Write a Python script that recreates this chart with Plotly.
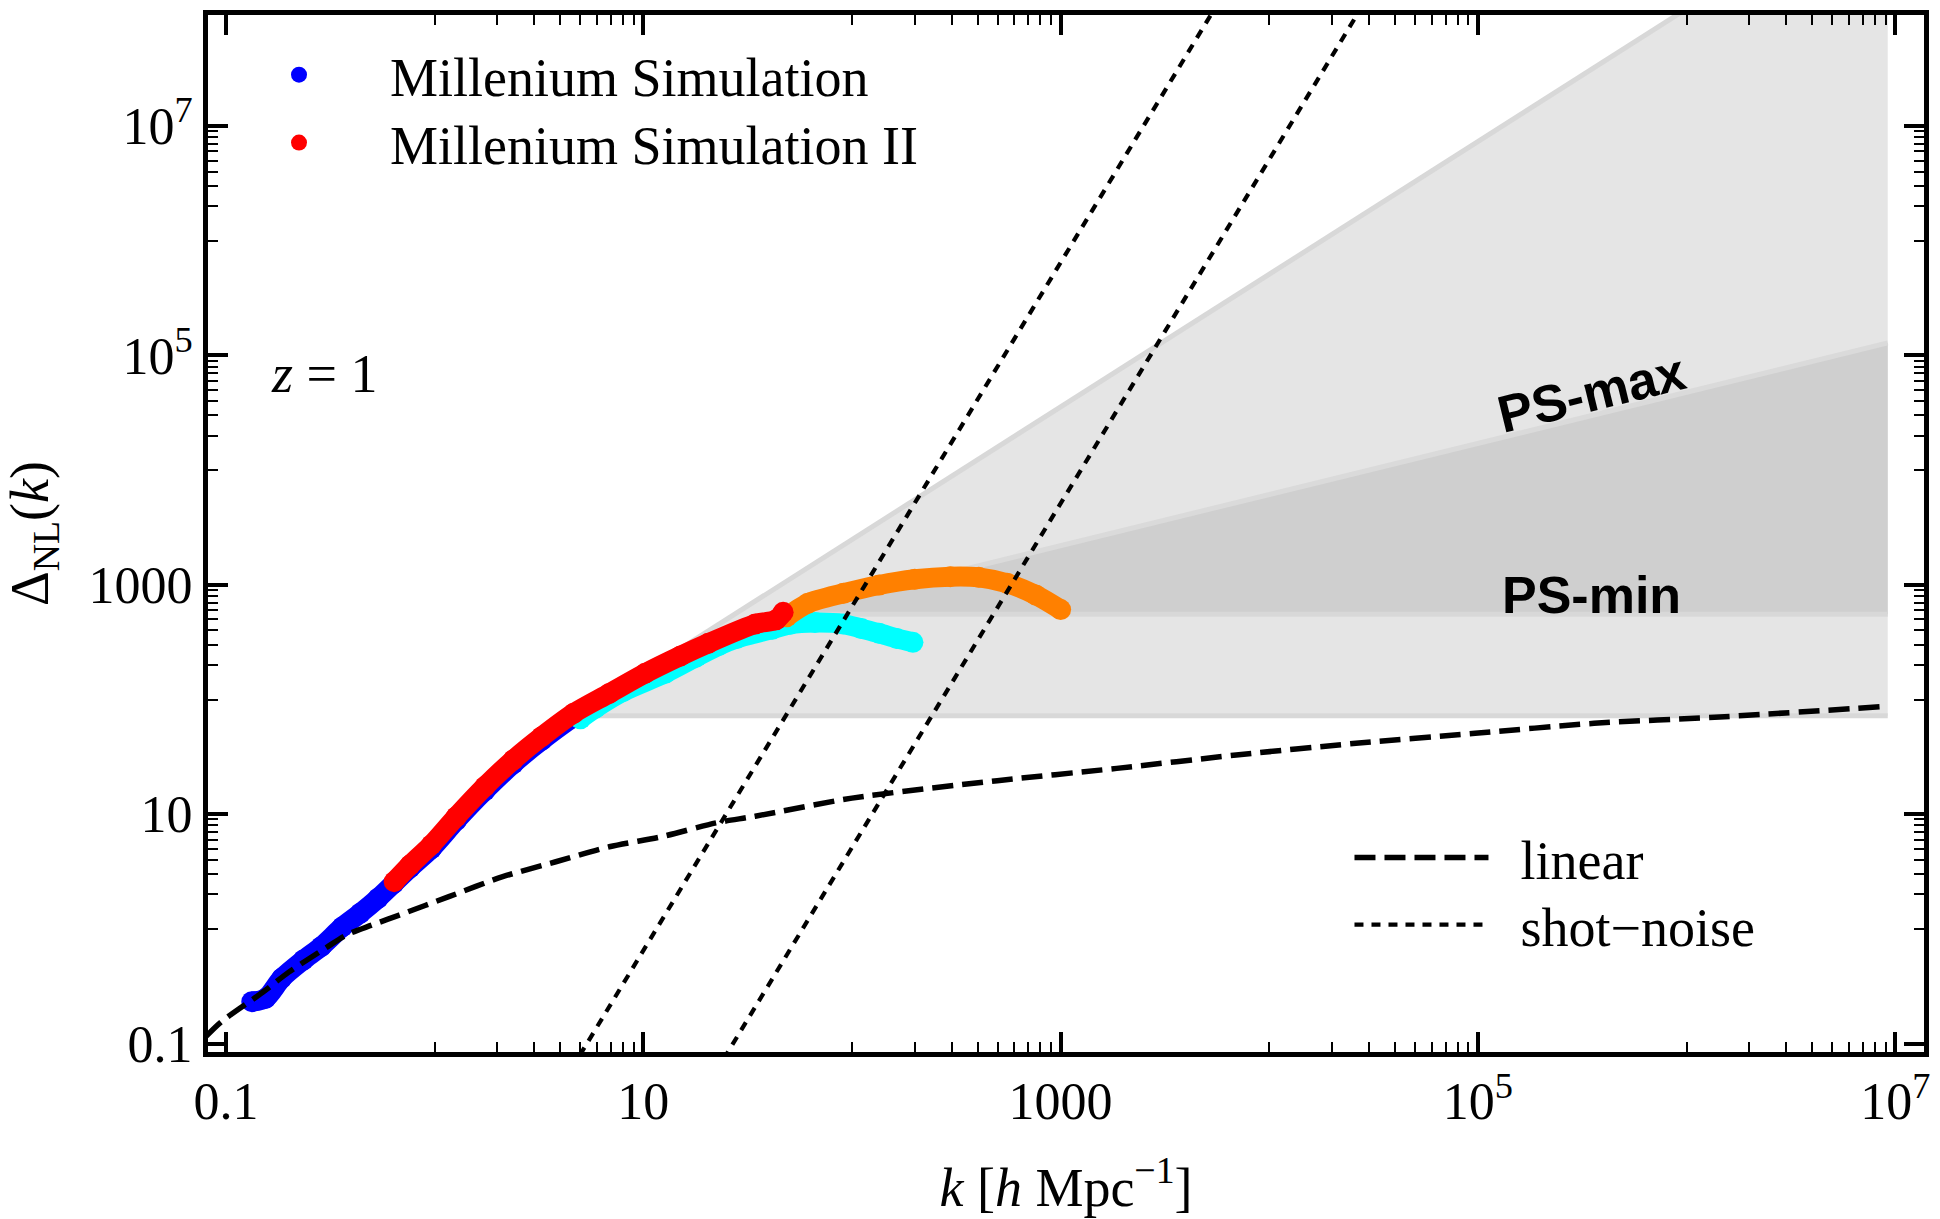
import plotly.graph_objects as go

# ---------------- data ----------------
# Millennium Simulation (blue)
ms_k = [0.133, 0.155, 0.185, 0.235, 0.286, 0.361, 0.44, 0.536, 0.638, 0.762, 0.964,
        1.27, 1.74, 2.38, 3.26, 4.64, 5.9]
ms_delta = [0.232, 0.248, 0.371, 0.536, 0.70, 1.04, 1.37, 1.85, 2.5, 3.4, 5.0,
            8.8, 16.0, 27.5, 44.0, 70.0, 88.0]

# Millennium Simulation II (red)
ms2_k = [0.64, 0.762, 0.964, 1.27, 1.74, 2.38, 3.26, 4.64, 6.87, 10.2, 15.1,
         20.5, 34.4, 43.3, 46.8]
ms2_delta = [2.58, 3.6, 5.4, 9.5, 17.4, 29.7, 47.4, 75.9, 113, 169, 240,
             309, 455, 495, 575]

# cyan extension
cyan_k = [5.0, 5.9, 8.0, 12.8, 18.0, 23.0, 28.0, 41.5, 50.5, 66.5, 91.0, 111.0,
          135.0, 164.0, 196.0]
cyan_delta = [68, 84, 117, 170, 235, 295, 340, 410, 452, 468, 455, 415,
              378, 341, 315]

# orange extension
orange_k = [48.6, 61.5, 91.0, 135.0, 200.0, 296.0, 405.0, 554.0, 760.0, 1000.0]
orange_delta = [527, 690, 843, 996, 1117, 1177, 1161, 1031, 815, 608]

# linear theory (dashed)
lin_k = [0.08, 0.095, 0.15, 0.2, 0.3, 0.38, 0.5, 0.677, 1.17, 2.12, 3.81, 6.87,
         12.4, 22.3, 34.4, 100, 497, 1858, 6940, 2.6e4, 9.7e4, 3.6e5, 1.36e6, 8.5e6]
lin_delta = [0.115, 0.155, 0.28, 0.42, 0.68, 0.89, 1.08, 1.32, 1.91, 2.85, 3.85, 5.2,
             6.4, 8.4, 9.6, 13.8, 19.6, 25.1, 32.8, 41.5, 50.7, 62, 70, 86.5]

# shot-noise levels (dotted), two simulations
shot_ms_k = [4.5, 6000.0]
shot_ms_delta = [0.059, 1.39e8]
shot_ms2_k = [22.0, 30000.0]
shot_ms2_delta = [0.0546, 1.38e8]

# shaded bounds
shade_k = [4.7, 9.2e6]          # left apex and right end of shaded region
shade_floor = 72.0              # lower horizontal bound
steep_delta = [72.0, 1.37e9]    # upper steep bound
ps_max_k = [45.5, 9.2e6]
ps_max_delta = [553.0, 1.285e5]
ps_min_level = 553.0

# axis ticks
major_vals = [0.1, 10, 1000, 1e5, 1e7]
major_text = ["0.1", "10", "1000", "10<sup>5</sup>", "10<sup>7</sup>"]
minor_vals = ([m * 1 for m in range(1, 10)] + [m * 100 for m in range(1, 10)] +
              [m * 1e4 for m in range(1, 10)] + [m * 1e6 for m in range(1, 10)])

SERIF = "Liberation Serif"
SANS = "Liberation Sans"
NB = "\u00a0"

fig = go.Figure()

# ---- shaded regions ----
fig.add_trace(go.Scatter(
    x=[shade_k[0], shade_k[1], shade_k[1]],
    y=[shade_floor, shade_floor, steep_delta[1]],
    fill="toself", fillcolor="#e5e5e5", mode="lines", line=dict(width=0),
    hoverinfo="skip", showlegend=False))
fig.add_trace(go.Scatter(
    x=[ps_max_k[0], ps_max_k[1], ps_max_k[1]],
    y=[ps_min_level, ps_min_level, ps_max_delta[1]],
    fill="toself", fillcolor="#cfcfcf", mode="lines", line=dict(width=0),
    hoverinfo="skip", showlegend=False))

bound_style = dict(color="#d8d8d8", width=5)
fig.add_trace(go.Scatter(x=shade_k, y=steep_delta, mode="lines",
                         line=bound_style, hoverinfo="skip", showlegend=False))
fig.add_trace(go.Scatter(x=shade_k, y=[shade_floor, shade_floor], mode="lines",
                         line=bound_style, hoverinfo="skip", showlegend=False))
fig.add_trace(go.Scatter(x=[ps_max_k[0], shade_k[1]], y=[ps_min_level, ps_min_level],
                         mode="lines", line=bound_style, hoverinfo="skip", showlegend=False))
fig.add_trace(go.Scatter(x=ps_max_k, y=ps_max_delta, mode="lines",
                         line=dict(color="#dadada", width=5), hoverinfo="skip",
                         showlegend=False))

# ---- simulation curves ----
MS = 21
LW = 20


def add_series(k, d, color, name, legend_id):
    fig.add_trace(go.Scatter(x=k, y=d, mode="lines",
                             line=dict(color=color, width=LW, shape="spline", smoothing=0.8),
                             hoverinfo="skip", showlegend=False))
    fig.add_trace(go.Scatter(x=k, y=d, mode="markers", name=name,
                             marker=dict(color=color, size=MS, line=dict(width=0)),
                             showlegend=legend_id is not None,
                             legend=legend_id or "legend"))


add_series(ms_k, ms_delta, "#0000ff", "Millenium Simulation", "legend")
add_series(cyan_k, cyan_delta, "#00ffff", "cyan", None)
add_series(orange_k, orange_delta, "#ff8000", "orange", None)
add_series(ms2_k, ms2_delta, "#ff0000", "Millenium Simulation II", "legend3")

# ---- linear & shot noise ----
fig.add_trace(go.Scatter(x=lin_k, y=lin_delta, mode="lines", name=NB * 2 + "linear",
                         line=dict(color="black", width=5.5, dash="21px,9px",
                                   shape="spline", smoothing=0.8),
                         legend="legend2"))
fig.add_trace(go.Scatter(x=shot_ms_k, y=shot_ms_delta, mode="lines",
                         name=NB * 2 + "shot−noise",
                         line=dict(color="black", width=4.2, dash="9px,8px"),
                         legend="legend4"))
fig.add_trace(go.Scatter(x=shot_ms2_k, y=shot_ms2_delta, mode="lines", name="shot−noise",
                         line=dict(color="black", width=4.2, dash="9px,8px"),
                         legend="legend4", showlegend=False))

axis_common = dict(
    type="log", showline=True, linewidth=5, linecolor="black", mirror="allticks",
    ticks="inside", ticklen=20, tickwidth=4, tickcolor="black",
    tickvals=major_vals, ticktext=major_text,
    tickfont=dict(family=SERIF, size=52, color="black"),
    showgrid=False, zeroline=False,
    minor=dict(tickvals=minor_vals, ticks="inside", ticklen=10, tickwidth=1.5,
               tickcolor="black", showgrid=False),
)

leg_font = dict(family=SERIF, size=54, color="black")
leg_base = dict(xanchor="left", yanchor="top", bgcolor="rgba(0,0,0,0)",
                font=leg_font, borderwidth=0)

fig.update_layout(
    width=1940, height=1219,
    margin=dict(l=208, r=10, t=15, b=167),
    plot_bgcolor="white", paper_bgcolor="white",
    xaxis=dict(axis_common, range=[-1.086, 7.1376],
               title=dict(text="<i>k</i> [<i>h</i> Mpc<sup>−1</sup>]",
                          font=dict(family=SERIF, size=54, color="black"), standoff=40)),
    yaxis=dict(axis_common, range=[-1.0732, 7.9677],
               title=dict(text="Δ<sub>NL</sub>(<i>k</i>)",
                          font=dict(family=SERIF, size=54, color="black"), standoff=25)),
    legend=dict(leg_base, x=0.0, y=0.9826, itemwidth=172),
    legend3=dict(leg_base, x=0.0, y=0.9171, itemwidth=172),
    legend2=dict(leg_base, x=0.6652, y=0.2276, itemwidth=134),
    legend4=dict(leg_base, x=0.6652, y=0.163, itemwidth=134),
    annotations=[
        dict(text="<i>z</i> = 1", x=0.0674, y=0.6538, xref="paper", yref="paper",
             xanchor="center", yanchor="middle", showarrow=False,
             font=dict(family=SERIF, size=54, color="black")),
        dict(text="<b>PS-max</b>", x=5.543, y=4.672, xref="x", yref="y",
             showarrow=False, textangle=-13.7,
             font=dict(family=SANS, size=52, color="black")),
        dict(text="<b>PS-min</b>", x=5.543, y=2.911, xref="x", yref="y",
             showarrow=False, font=dict(family=SANS, size=52, color="black")),
    ],
)

fig.write_html("out.html", config={"displayModeBar": False})
